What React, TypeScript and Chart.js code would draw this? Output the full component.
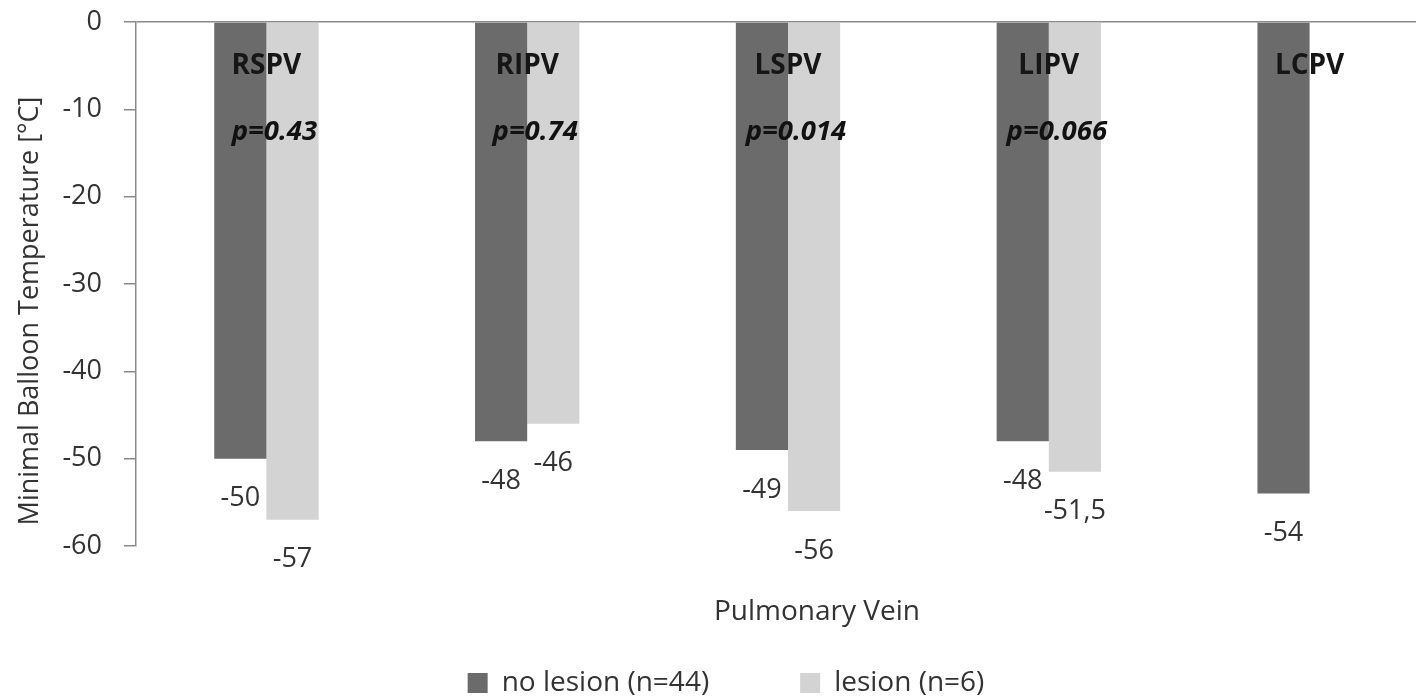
import React, { useEffect, useRef } from "react";
import { Chart, registerables } from "chart.js";

Chart.register(...registerables);

const categories = ["RSPV", "RIPV", "LSPV", "LIPV", "LCPV"];
const noLesionValues: (number | null)[] = [-50, -48, -49, -48, -54];
const lesionValues: (number | null)[] = [-57, -46, -56, -51.5, null];
const pValues = ["p=0.43", "p=0.74", "p=0.014", "p=0.066", ""];
const seriesNames = ["no lesion (n=44)", "lesion (n=6)"];
const yTickValues = [0, -10, -20, -30, -40, -50, -60];
const yTitle = "Minimal Balloon Temperature [°C]";
const xTitle = "Pulmonary Vein";

const FONT = "'Open Sans', 'DejaVu Sans', sans-serif";
const TEXT = "#333333";
const AXIS = "#8a8a8a";

const annotationPlugin = {
  id: "annotations",
  afterDatasetsDraw(chart: any) {
    const ctx = chart.ctx;
    const xs = chart.scales.x;
    const ys = chart.scales.y;
    const area = chart.chartArea;
    ctx.save();
    ctx.textAlign = "center";
    ctx.textBaseline = "middle";

    // value labels under each bar end
    chart.data.datasets.forEach((ds: any, di: number) => {
      const meta = chart.getDatasetMeta(di);
      meta.data.forEach((el: any, i: number) => {
        const v = ds.data[i];
        if (v === null || v === undefined) return;
        ctx.font = `27px ${FONT}`;
        ctx.fillStyle = TEXT;
        ctx.fillText(String(v).replace(".", ","), el.x, el.y + 40);
      });
    });

    // category names and p-values inside the plot
    categories.forEach((c, i) => {
      const cx = xs.getPixelForValue(i);
      ctx.font = `bold 28px ${FONT}`;
      ctx.fillStyle = "#161616";
      ctx.fillText(c, cx, ys.getPixelForValue(-5));
      if (pValues[i]) {
        ctx.font = `italic bold 27.5px ${FONT}`;
        ctx.fillStyle = "#111111";
        ctx.fillText(pValues[i], cx + 8, ys.getPixelForValue(-12.6));
      }
    });

    // axis titles
    ctx.fillStyle = TEXT;
    ctx.font = `27px ${FONT}`;
    ctx.save();
    ctx.translate(30, (area.top + area.bottom) / 2 + 27);
    ctx.rotate(-Math.PI / 2);
    ctx.fillText(yTitle, 0, 0);
    ctx.restore();

    ctx.font = `28px ${FONT}`;
    ctx.fillText(xTitle, (area.left + area.right) / 2 + 29, area.bottom + 66);

    ctx.restore();
  },
};

export default function App() {
  const canvasRef = useRef<HTMLCanvasElement | null>(null);

  useEffect(() => {
    document.body.style.margin = "0";
    const canvas = canvasRef.current;
    if (!canvas) return;
    const chart = new Chart(canvas, {
      type: "bar",
      data: {
        labels: categories,
        datasets: [
          {
            label: seriesNames[0],
            data: noLesionValues,
            backgroundColor: "#6b6b6b",
            borderWidth: 0,
            categoryPercentage: 0.4,
            barPercentage: 1,
          },
          {
            label: seriesNames[1],
            data: lesionValues,
            backgroundColor: "#d3d3d3",
            borderWidth: 0,
            categoryPercentage: 0.4,
            barPercentage: 1,
          },
        ],
      },
      options: {
        responsive: false,
        animation: false,
        devicePixelRatio: 1,
        layout: { padding: { top: 22, left: 0, right: 0, bottom: 0 } },
        plugins: {
          legend: {
            display: true,
            position: "bottom",
            labels: {
              font: { family: FONT, size: 28 },
              color: TEXT,
              boxWidth: 20,
              boxHeight: 20,
              padding: 91,
            },
          },
          tooltip: { enabled: false },
        },
        scales: {
          x: {
            ticks: { display: false },
            grid: { display: false },
            border: { display: false },
            afterFit(scale: any) {
              scale.height = 32;
              scale.paddingLeft = 0;
              scale.paddingRight = 12;
            },
          },
          y: {
            min: yTickValues[yTickValues.length - 1],
            max: yTickValues[0],
            afterBuildTicks(scale: any) {
              scale.ticks = yTickValues.map((v) => ({ value: v }));
            },
            ticks: {
              font: { family: FONT, size: 27 },
              color: TEXT,
              padding: 22,
              callback: (v: any) => String(v),
            },
            grid: {
              drawOnChartArea: true,
              color: (c: any) => (c.tick && c.tick.value === 0 ? AXIS : "rgba(0,0,0,0)"),
              tickColor: AXIS,
              tickLength: 12,
              lineWidth: 1.5,
            },
            border: { display: true, color: AXIS, width: 1.5 },
            afterFit(scale: any) {
              scale.width = 136;
              scale.paddingTop = 0;
              scale.paddingBottom = 0;
            },
          },
        },
      },
      plugins: [annotationPlugin],
    } as any);
    return () => chart.destroy();
  }, []);

  return (
    <div style={{ width: 1416, height: 698, overflow: "hidden", position: "relative", background: "#ffffff" }}>
      <canvas ref={canvasRef} width={1452} height={707} style={{ display: "block" }} />
    </div>
  );
}
